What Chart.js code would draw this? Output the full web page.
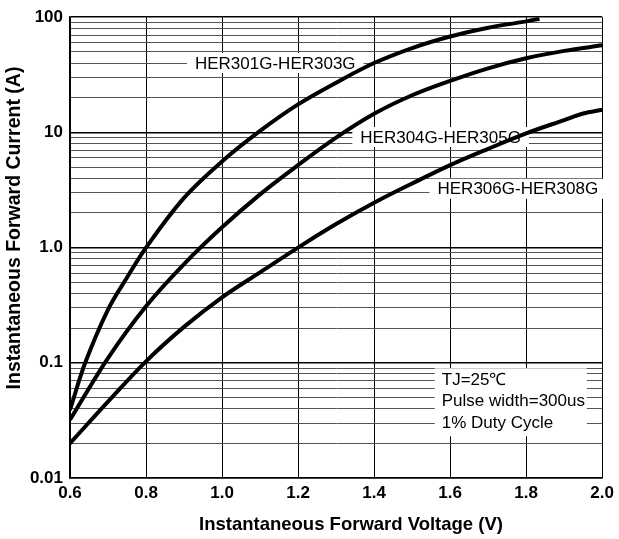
<!DOCTYPE html>
<html lang="en">
<head>
    <meta charset="UTF-8">
    <title>Forward Characteristics</title>
    <script src="https://cdn.jsdelivr.net/npm/chart.js"></script>
    <style>
        html, body {
            margin: 0;
            padding: 0;
            background: #ffffff;
        }
        #wrap {
            width: 619px;
            height: 539px;
        }
    </style>
</head>
<body>
<div id="wrap">
    <canvas id="ivChart" width="619" height="539"></canvas>
</div>
<script>
    // forward voltage (V) / current (A)
    const v301 = [0.6, 0.64, 0.7, 0.75, 0.8, 0.9, 1.0, 1.1, 1.2, 1.3, 1.4, 1.5, 1.6, 1.7, 1.8, 1.835];
    const i301 = [0.039, 0.1, 0.29, 0.55, 1.0, 2.7, 5.6, 10.3, 17.5, 27, 40, 54, 68, 81, 92, 97];

    const v304 = [0.6, 0.7, 0.8, 0.9, 1.0, 1.1, 1.2, 1.3, 1.4, 1.5, 1.6, 1.7, 1.8, 1.9, 2.0];
    const i304 = [0.032, 0.11, 0.31, 0.72, 1.5, 2.9, 5.2, 9, 14.5, 21, 28, 36, 44, 51, 57];

    const v306 = [0.6, 0.7, 0.8, 0.9, 1.0, 1.1, 1.2, 1.3, 1.4, 1.5, 1.6, 1.7, 1.8, 1.9, 1.95, 2.0];
    const i306 = [0.02, 0.046, 0.103, 0.205, 0.37, 0.61, 1.0, 1.6, 2.45, 3.6, 5.2, 7.2, 9.8, 12.8, 14.6, 15.7];

    const yDecades = [0.01, 0.1, 1, 10, 100];
    const yDecadeLabels = ['0.01', '0.1', '1.0', '10', '100'];

    const xTitle = 'Instantaneous Forward Voltage (V)';
    const yTitle = 'Instantaneous Forward Current (A)';

    const curveLabels = [
        { text: 'HER301G-HER303G', v: 1.14, i: 40 },
        { text: 'HER304G-HER305G', v: 1.575, i: 9.1 },
        { text: 'HER306G-HER308G', v: 1.778, i: 3.24 }
    ];
    const noteLines = ['TJ=25\u2103', 'Pulse width=300us', '1% Duty Cycle'];

    const FONT = '"Liberation Sans", Arial, sans-serif';

    function toPoints(xs, ys) {
        return xs.map((x, k) => ({ x: x, y: ys[k] }));
    }

    function isDecade(v) {
        let l = Math.log10(v);
        return Math.abs(l - Math.round(l)) < 1e-6;
    }

    const labelPlugin = {
        id: 'labelPlugin',
        beforeDatasetsDraw(chart) {
            let c = chart.ctx;
            let xs = chart.scales.x, ys = chart.scales.y;
            c.save();
            c.font = '17px ' + FONT;
            c.textBaseline = 'middle';
            c.textAlign = 'center';
            for (let lb of curveLabels) {
                let px = xs.getPixelForValue(lb.v);
                let py = ys.getPixelForValue(lb.i);
                let w = c.measureText(lb.text).width;
                c.fillStyle = '#ffffff';
                c.fillRect(px - w / 2 - 8, py - 10, w + 16, 20);
                c.fillStyle = '#000000';
                c.fillText(lb.text, px, py + 1);
            }
            // test-condition note
            let nx = xs.getPixelForValue(1.578);
            let ny = ys.getPixelForValue(0.0705);
            c.fillStyle = '#ffffff';
            c.fillRect(nx - 7, ny - 12, 152, 68);
            c.fillStyle = '#000000';
            c.textAlign = 'left';
            noteLines.forEach((t, k) => {
                c.fillText(t, nx, ny + k * 21.5);
            });
            c.restore();
        },
        afterDraw(chart) {
            let c = chart.ctx;
            c.save();
            c.fillStyle = '#000000';
            c.textAlign = 'center';
            c.textBaseline = 'middle';
            c.font = 'bold 18.5px ' + FONT;
            c.fillText(xTitle, 351, 525);
            c.translate(15, 228);
            c.rotate(-Math.PI / 2);
            c.font = 'bold 19.5px ' + FONT;
            c.fillText(yTitle, 0, 0);
            c.restore();
        }
    };

    const lineStyle = {
        borderColor: '#000000',
        borderWidth: 4,
        pointRadius: 0,
        fill: false,
        tension: 0.35
    };

    new Chart(document.getElementById('ivChart').getContext('2d'), {
        type: 'line',
        data: {
            datasets: [
                Object.assign({ label: 'HER301G-HER303G', data: toPoints(v301, i301) }, lineStyle),
                Object.assign({ label: 'HER304G-HER305G', data: toPoints(v304, i304) }, lineStyle),
                Object.assign({ label: 'HER306G-HER308G', data: toPoints(v306, i306) }, lineStyle)
            ]
        },
        options: {
            responsive: false,
            animation: false,
            layout: { padding: { top: 17, right: 12, left: 0, bottom: 0 } },
            plugins: {
                legend: { display: false },
                tooltip: { enabled: false }
            },
            scales: {
                x: {
                    type: 'linear',
                    min: 0.6,
                    max: 2.0,
                    afterFit: s => { s.height = 61; },
                    ticks: {
                        stepSize: 0.2,
                        padding: 5,
                        color: '#000000',
                        font: { family: FONT, size: 17, weight: 'bold' },
                        callback: v => v.toFixed(1)
                    },
                    grid: { color: '#000000', lineWidth: 1, drawTicks: false },
                    border: { color: '#000000', width: 1.5 }
                },
                y: {
                    type: 'logarithmic',
                    min: 0.01,
                    max: 100,
                    afterFit: s => { s.width = 70; },
                    afterBuildTicks: s => {
                        let t = [];
                        for (let d of yDecades.slice(0, 4)) {
                            for (let m = 1; m <= 9; m++) t.push({ value: +(m * d).toPrecision(3) });
                        }
                        t.push({ value: 100 });
                        s.ticks = t;
                    },
                    ticks: {
                        autoSkip: false,
                        padding: 7,
                        color: '#000000',
                        font: { family: FONT, size: 17, weight: 'bold' },
                        callback: v => {
                            let k = yDecades.findIndex(d => Math.abs(d - v) < d * 1e-6);
                            return k >= 0 ? yDecadeLabels[k] : '';
                        }
                    },
                    grid: {
                        drawTicks: false,
                        color: c => isDecade(c.tick.value) ? '#000000' : '#555555',
                        lineWidth: c => isDecade(c.tick.value) ? 1.5 : 1
                    },
                    border: { color: '#000000', width: 1.5 }
                }
            }
        },
        plugins: [labelPlugin]
    });
</script>
</body>
</html>
